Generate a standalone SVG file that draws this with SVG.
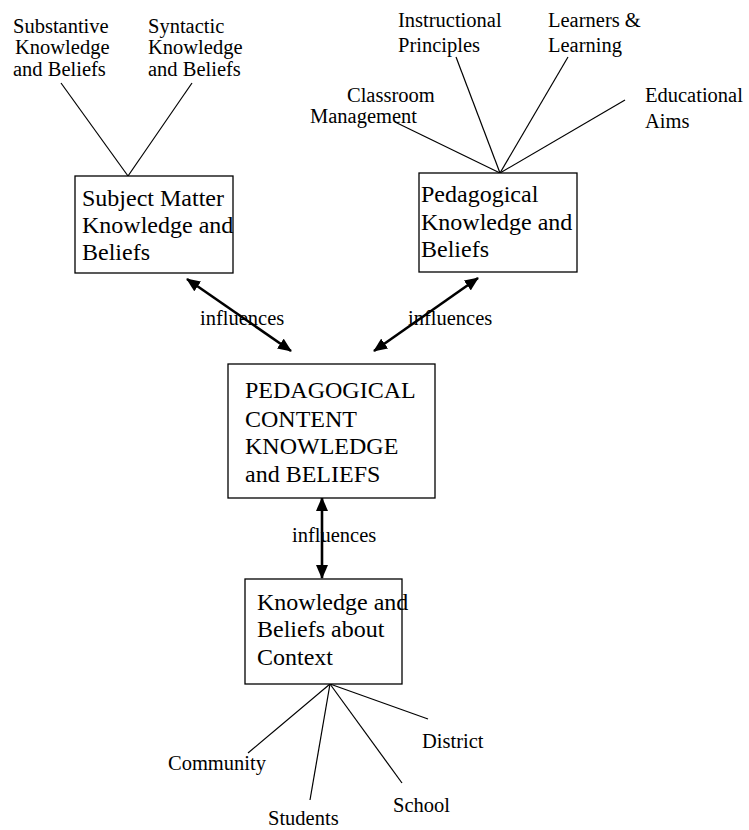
<svg xmlns="http://www.w3.org/2000/svg" width="749" height="830" viewBox="0 0 749 830">
<style>
.box{fill:#fff;stroke:#000;stroke-width:1.3}
.bt{font-family:"Liberation Serif","Times New Roman",serif;font-size:24px;fill:#000}
.lt{font-family:"Liberation Serif","Times New Roman",serif;font-size:20.5px;fill:#000}
.thin{stroke:#000;stroke-width:1.2;fill:none}
.arr{stroke:#000;stroke-width:2.6;fill:none;marker-start:url(#ah);marker-end:url(#ah)}
</style>
<defs>
<marker id="ah" viewBox="0 0 14 12" refX="13" refY="6" markerWidth="14" markerHeight="12" markerUnits="userSpaceOnUse" orient="auto-start-reverse">
<path d="M0,0 L14,6 L0,12 z" fill="#000"/>
</marker>
</defs>
<rect width="749" height="830" fill="#fff"/>
<g id="connectors">
<line class="thin" x1="128" y1="176" x2="61" y2="83"/>
<line class="thin" x1="128" y1="176" x2="192" y2="83"/>
<line class="thin" x1="500" y1="173" x2="395" y2="122"/>
<line class="thin" x1="500" y1="173" x2="456" y2="57"/>
<line class="thin" x1="500" y1="173" x2="568" y2="57"/>
<line class="thin" x1="500" y1="173" x2="625" y2="100"/>
<line class="thin" x1="330" y1="684" x2="248" y2="753"/>
<line class="thin" x1="330" y1="684" x2="310" y2="800"/>
<line class="thin" x1="330" y1="684" x2="402" y2="783"/>
<line class="thin" x1="330" y1="684" x2="428" y2="719"/>
<line class="arr" x1="187" y1="279" x2="291" y2="351"/>
<line class="arr" x1="478" y1="278" x2="374" y2="351"/>
<line class="arr" x1="322" y1="498" x2="322" y2="578"/>
<text class="lt" x="200" y="325">influences</text>
<text class="lt" x="408" y="325">influences</text>
<text class="lt" x="292" y="542">influences</text>
</g>
<g id="substantive"><text class="lt" x="13" y="33">Substantive</text><text class="lt" x="15" y="54">Knowledge</text><text class="lt" x="13" y="76">and Beliefs</text></g>
<g id="syntactic"><text class="lt" x="148" y="33">Syntactic</text><text class="lt" x="148" y="54">Knowledge</text><text class="lt" x="148" y="76">and Beliefs</text></g>
<g id="subject-matter"><rect class="box" x="75" y="176" width="158" height="97"/><text class="bt" x="82" y="206">Subject Matter</text><text class="bt" x="82" y="233">Knowledge and</text><text class="bt" x="82" y="260">Beliefs</text></g>
<g id="instructional"><text class="lt" x="398" y="27">Instructional</text><text class="lt" x="398" y="52">Principles</text></g>
<g id="learners"><text class="lt" x="548" y="27">Learners &amp;</text><text class="lt" x="548" y="52">Learning</text></g>
<g id="classroom"><text class="lt" x="347" y="102">Classroom</text><text class="lt" x="310" y="123">Management</text></g>
<g id="educational"><text class="lt" x="645" y="102">Educational</text><text class="lt" x="645" y="128">Aims</text></g>
<g id="pedagogical"><rect class="box" x="419" y="173" width="158" height="99"/><text class="bt" x="421" y="202">Pedagogical</text><text class="bt" x="421" y="230">Knowledge and</text><text class="bt" x="421" y="257">Beliefs</text></g>
<g id="pck"><rect class="box" x="228" y="364" width="207" height="134"/><text class="bt" x="245" y="398">PEDAGOGICAL</text><text class="bt" x="245" y="427">CONTENT</text><text class="bt" x="245" y="454">KNOWLEDGE</text><text class="bt" x="245" y="482">and BELIEFS</text></g>
<g id="context"><rect class="box" x="245" y="579" width="157" height="105"/><text class="bt" x="257" y="610">Knowledge and</text><text class="bt" x="257" y="637">Beliefs about</text><text class="bt" x="257" y="665">Context</text></g>
<g id="community"><text class="lt" x="168" y="770">Community</text></g>
<g id="students"><text class="lt" x="268" y="825">Students</text></g>
<g id="school"><text class="lt" x="393" y="812">School</text></g>
<g id="district"><text class="lt" x="422" y="748">District</text></g>
</svg>
